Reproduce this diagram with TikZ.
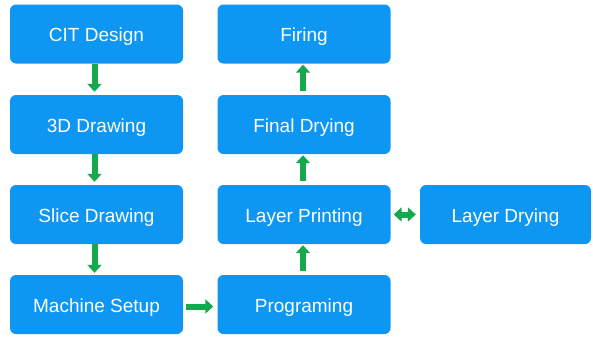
\documentclass[tikz,border=0pt]{standalone}
\usepackage{fontspec}
\setmainfont{Liberation Sans}
\usetikzlibrary{arrows.meta}
\definecolor{boxblue}{RGB}{14,150,243}
\definecolor{arrgreen}{RGB}{22,168,76}
\begin{document}
\begin{tikzpicture}[x=1pt,y=-1pt,
  stepbox/.style={fill=boxblue,draw=none,rounded corners=6pt,minimum width=173pt,minimum height=59pt,
    text=white,font=\fontsize{19}{22}\selectfont,inner sep=0pt,text height=15.2pt,text depth=0pt},
  garrow/.style={draw=arrgreen,line width=6pt,-{Triangle[length=8pt,width=14pt]},arrgreen},
  gdarrow/.style={draw=arrgreen,line width=6pt,{Triangle[length=8pt,width=14pt]}-{Triangle[length=8pt,width=14pt]},arrgreen}]
\useasboundingbox (0,0) rectangle (593,338);
\node[stepbox] (cit) at (96.5,34) {CIT Design};
\node[stepbox] (d3) at (96.5,124.5) {3D Drawing};
\node[stepbox] (slice) at (96.5,214.5) {Slice Drawing};
\node[stepbox] (mach) at (96.5,304.5) {Machine Setup};
\node[stepbox] (prog) at (304,304.5) {Programing};
\node[stepbox] (lp) at (304,214.5) {Layer Printing};
\node[stepbox] (fd) at (304,124.5) {Final Drying};
\node[stepbox] (fire) at (304,34) {Firing};
\node[stepbox,minimum width=171pt] (ld) at (505.5,214.5) {Layer Drying};
\draw[garrow,shorten >=3pt] ([xshift=-2pt]cit.south) -- ([xshift=-2pt]d3.north);
\draw[garrow,shorten >=3pt] ([xshift=-2pt]d3.south) -- ([xshift=-2pt]slice.north);
\draw[garrow,shorten >=2pt] ([xshift=-2pt]slice.south) -- ([xshift=-2pt]mach.north);
\draw[garrow,shorten <=3pt,shorten >=4pt] ([yshift=-2pt]mach.east) -- ([yshift=-2pt]prog.west);
\draw[garrow,shorten <=4pt,shorten >=1pt] ([xshift=-1pt]prog.north) -- ([xshift=-1pt]lp.south);
\draw[garrow,shorten <=4pt,shorten >=1pt] ([xshift=-1pt]lp.north) -- ([xshift=-1pt]fd.south);
\draw[garrow,shorten <=4pt,shorten >=1pt] ([xshift=-1pt]fd.north) -- ([xshift=-1pt]fire.south);
\draw[gdarrow,shorten <=3pt,shorten >=4pt] (lp.east) -- (ld.west);
\end{tikzpicture}
\end{document}
